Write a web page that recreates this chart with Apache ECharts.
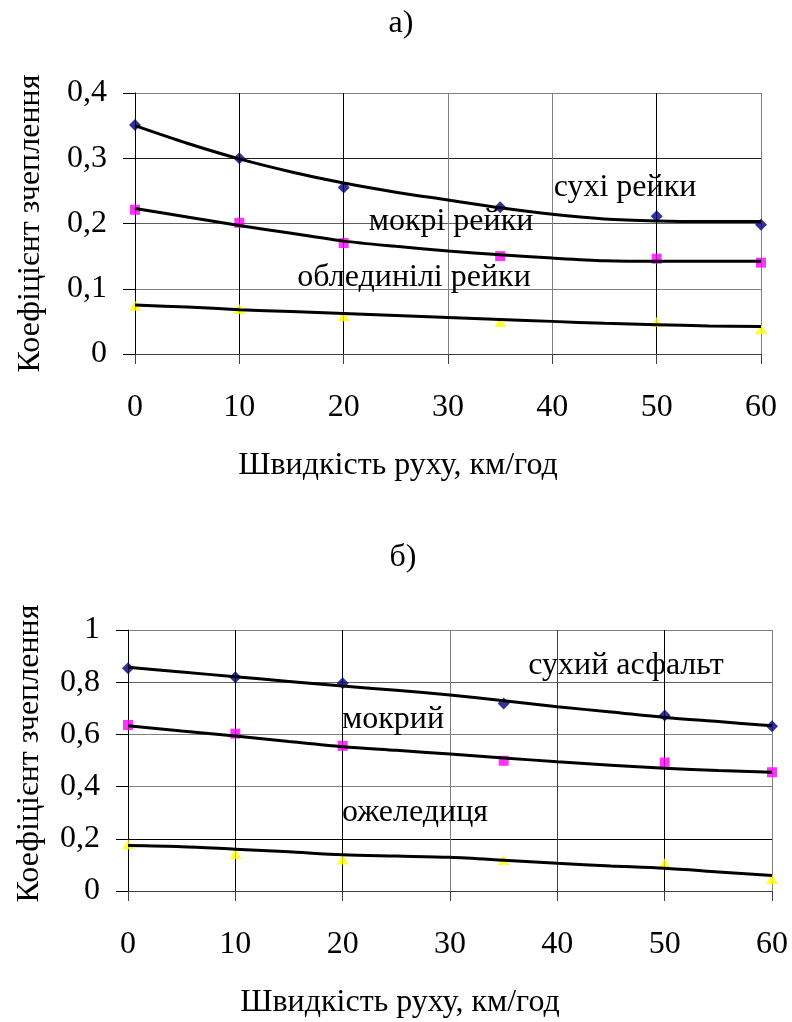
<!DOCTYPE html>
<html><head><meta charset="utf-8">
<script src="https://cdn.jsdelivr.net/npm/echarts@6/dist/echarts.min.js"></script>
<style>html,body{margin:0;padding:0;background:#fff}#c{width:792px;height:1022px}</style>
</head><body><div id="c"></div>
<script>
// ---- data ----
const speedPoints = [0, 10, 20, 35, 50, 60];
// а) rails
const railDry = [0.351, 0.300, 0.255, 0.225, 0.211, 0.198];
const railWet = [0.221, 0.201, 0.170, 0.150, 0.146, 0.140];
const railIcy = [0.074, 0.069, 0.058, 0.049, 0.049, 0.038];
// б) road
const roadDry = [0.853, 0.819, 0.796, 0.718, 0.672, 0.631];
const roadWet = [0.636, 0.603, 0.556, 0.499, 0.492, 0.455];
const roadIcy = [0.179, 0.142, 0.121, 0.119, 0.106, 0.045];
// trend lines
const trendSpeeds = [0, 5, 10, 15, 20, 25, 30, 35, 40, 45, 50, 55, 60];
const railDryTrend = [0.350, 0.323, 0.299, 0.279, 0.262, 0.248, 0.236, 0.224, 0.214, 0.207, 0.204, 0.203, 0.203];
const railWetTrend = [0.223, 0.210, 0.197, 0.185, 0.173, 0.165, 0.158, 0.152, 0.147, 0.143, 0.142, 0.142, 0.142];
const railIcyTrend = [0.075, 0.072, 0.068, 0.065, 0.062, 0.059, 0.056, 0.053, 0.050, 0.047, 0.045, 0.043, 0.042];
const roadDryTrend = [0.857, 0.839, 0.821, 0.803, 0.785, 0.769, 0.751, 0.729, 0.706, 0.686, 0.665, 0.649, 0.633];
const roadWetTrend = [0.633, 0.613, 0.594, 0.573, 0.553, 0.539, 0.525, 0.510, 0.495, 0.482, 0.470, 0.462, 0.455];
const roadIcyTrend = [0.174, 0.170, 0.160, 0.150, 0.139, 0.134, 0.129, 0.118, 0.106, 0.096, 0.087, 0.073, 0.059];
// labels
const titles = ['а)', 'б)'];
const xName = 'Швидкість руху, км/год';
const yName = 'Коефіцієнт зчеплення';
const railLabels = ['сухі рейки', 'мокрі рейки', 'облединілі рейки'];
const roadLabels = ['сухий асфальт', 'мокрий', 'ожеледиця'];

const FONT = '"Liberation Serif","Times New Roman",serif';
const pairs = (xs, ys) => xs.map((x, i) => [x, ys[i]]);
const fmt = v => String(+v.toFixed(2)).replace('.', ',');

function xAxisCfg(gridIndex, splitColors) {
  return {
    type: 'value', gridIndex, min: 0, max: 60, interval: 10,
    name: xName, nameLocation: 'middle', nameGap: 96,
    nameTextStyle: { fontFamily: FONT, fontSize: 32, color: '#000', padding: [0, 100, 0, 0] },
    axisLine: { show: true, onZero: false, lineStyle: { color: '#404040', width: 1 } },
    axisTick: { show: true, length: 10, lineStyle: { color: '#404040' } },
    axisLabel: { fontFamily: FONT, fontSize: 32, color: '#000', margin: 38 },
    splitLine: { show: true, lineStyle: { color: splitColors, width: 1 } }
  };
}
function yAxisCfg(gridIndex, max, interval, gap, pad, splitColors) {
  return {
    type: 'value', gridIndex, min: 0, max, interval,
    name: yName, nameLocation: 'middle', nameGap: gap, nameRotate: 90,
    nameTextStyle: { fontFamily: FONT, fontSize: 32, color: '#000', padding: pad },
    axisLine: { show: true, lineStyle: { color: '#000', width: 1 } },
    axisTick: { show: true, length: 12, lineStyle: { color: '#000' } },
    axisLabel: { fontFamily: FONT, fontSize: 32, color: '#000', margin: 28, formatter: fmt },
    splitLine: { show: true, lineStyle: { color: splitColors, width: 1 } }
  };
}
function scatter(name, xi, data, symbol, size, color) {
  return { name, type: 'scatter', xAxisIndex: xi, yAxisIndex: xi, data, symbol, symbolSize: size,
    itemStyle: { color }, z: 2, silent: true };
}
function trend(xi, data) {
  return { type: 'line', xAxisIndex: xi, yAxisIndex: xi, data, showSymbol: false, smooth: 0.3,
    lineStyle: { color: '#000', width: 3 }, z: 3, silent: true };
}
function label(text, x, y) {
  return { type: 'text', x, y, z: 10, style: { text, fontFamily: FONT, fontSize: 32, fill: '#000',
    textAlign: 'center', textVerticalAlign: 'middle' } };
}

const chart = echarts.init(document.getElementById('c'), null, { renderer: 'canvas' });
chart.setOption({
  backgroundColor: '#fff',
  animation: false,
  title: [
    { text: titles[0], left: 396, top: 3, textAlign: 'center', textStyle: { fontFamily: FONT, fontSize: 32, fontWeight: 'normal', color: '#000' } },
    { text: titles[1], left: 398, top: 537, textAlign: 'center', textStyle: { fontFamily: FONT, fontSize: 32, fontWeight: 'normal', color: '#000' } }
  ],
  grid: [
    { left: 135, top: 93, width: 626, height: 261 },
    { left: 128, top: 630, width: 644, height: 261 }
  ],
  xAxis: [
    xAxisCfg(0, ['#000', '#000', '#000', '#808080', '#808080', '#000', '#808080']),
    xAxisCfg(1, ['#000', '#000', '#000', '#808080', '#404040', '#000', '#808080'])
  ],
  yAxis: [
    yAxisCfg(0, 0.4, 0.1, 88, [0, 0, 0, 0], ['#000', '#808080', '#606060', '#202020', '#808080']),
    yAxisCfg(1, 1, 0.2, 82, [0, 0, 0, 14], ['#000', '#000', '#808080', '#808080', '#606060', '#808080'])
  ],
  series: [
    scatter('сухі рейки', 0, pairs(speedPoints, railDry), 'diamond', 12, '#000080'),
    scatter('мокрі рейки', 0, pairs(speedPoints, railWet), 'rect', 10, '#FF00FF'),
    scatter('облединілі рейки', 0, pairs(speedPoints, railIcy), 'triangle', [12, 10], '#FFFF00'),
    trend(0, pairs(trendSpeeds, railDryTrend)),
    trend(0, pairs(trendSpeeds, railWetTrend)),
    trend(0, pairs(trendSpeeds, railIcyTrend)),
    scatter('сухий асфальт', 1, pairs(speedPoints, roadDry), 'diamond', 12, '#000080'),
    scatter('мокрий', 1, pairs(speedPoints, roadWet), 'rect', 10, '#FF00FF'),
    scatter('ожеледиця', 1, pairs(speedPoints, roadIcy), 'triangle', [12, 10], '#FFFF00'),
    trend(1, pairs(trendSpeeds, roadDryTrend)),
    trend(1, pairs(trendSpeeds, roadWetTrend)),
    trend(1, pairs(trendSpeeds, roadIcyTrend))
  ],
  graphic: [
    label(railLabels[0], 625, 188),
    label(railLabels[1], 451, 222),
    label(railLabels[2], 414, 278),
    label(roadLabels[0], 626, 666),
    label(roadLabels[1], 393, 720),
    label(roadLabels[2], 415, 813)
  ]
});
</script></body></html>
